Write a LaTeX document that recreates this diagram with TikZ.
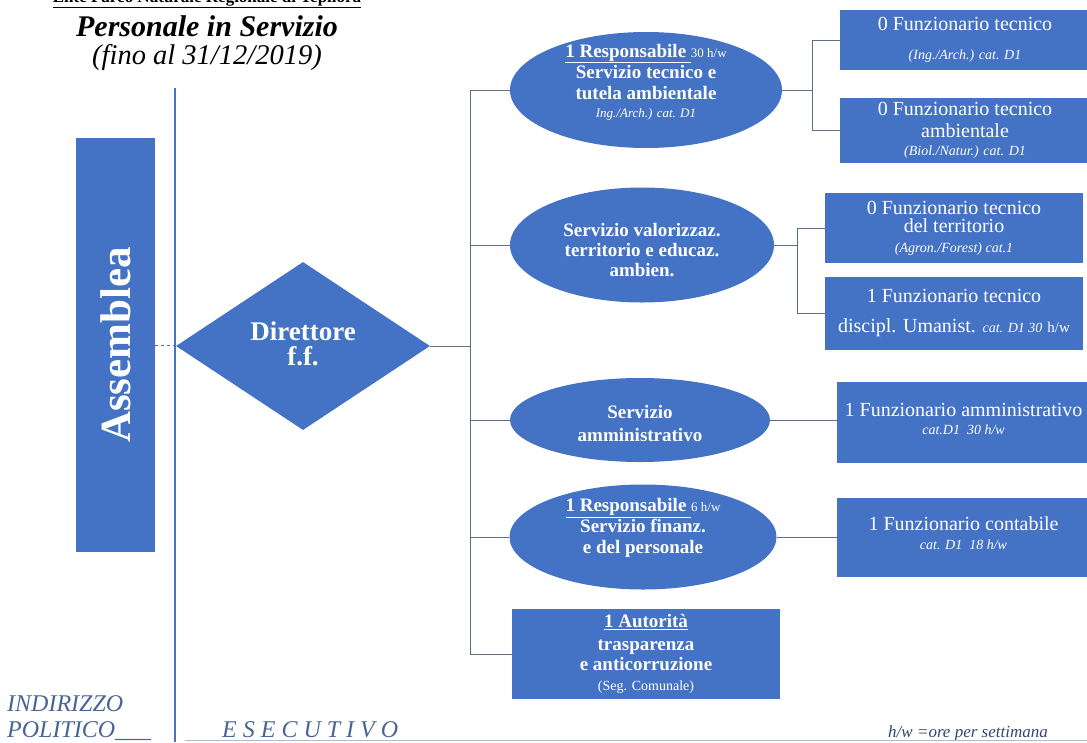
\documentclass[tikz,border=0pt]{standalone}
\usepackage{fontspec}
\setmainfont{Liberation Serif}
\usetikzlibrary{shapes.geometric}
\definecolor{boxblue}{RGB}{68,114,196}
\definecolor{linegray}{RGB}{95,110,135}
\definecolor{txtblue}{RGB}{70,100,150}
\definecolor{txtdark}{RGB}{50,70,110}
\definecolor{baseline}{RGB}{170,190,205}
\newcommand\mysmallit[1]{{\mdseries\itshape\fontsize{14}{22}\selectfont #1}}
\newcommand\myhw[1]{{\mdseries\fontsize{13}{21}\selectfont #1}}
\begin{document}
\begin{tikzpicture}[x=1pt,y=-1pt,
  fillbox/.style={fill=boxblue, text=white, inner sep=0pt, align=center, draw=none},
  oval/.style={ellipse, fillbox},
  ovaltext/.style={text=white, inner sep=0pt, align=center, font=\bfseries\fontsize{19}{21}\selectfont},
  rbox/.style={rectangle, fillbox, font=\fontsize{20}{22}\selectfont},
  boxtext/.style={text=white, inner sep=0pt, align=center, font=\fontsize{20}{22}\selectfont},
  conn/.style={draw=linegray, line width=0.9pt},
  mainline/.style={draw=boxblue, line width=2.5pt},
  foot/.style={font=\itshape\fontsize{24}{27}\selectfont, text=txtblue, inner sep=0pt}]
\useasboundingbox (0,0) rectangle (1087,742);
\clip (0,0) rectangle (1087,742);

% titles
\node[anchor=base, inner sep=0pt, font=\bfseries\fontsize{17}{20}\selectfont] (ente) at (207,2) {\underline{Ente Parco Naturale Regionale di Tepilora}};
\node[anchor=base, inner sep=0pt, font=\bfseries\itshape\fontsize{30}{32}\selectfont] (title) at (207,36) {Personale in Servizio};
\node[anchor=base, inner sep=0pt, font=\itshape\fontsize{28.5}{30}\selectfont] (date) at (207,64) {(fino al 31/12/2019)};

% main vertical line
\coordinate (vtop) at (175,88);
\coordinate (vbot) at (175,742);
\draw[mainline] (vtop) -- (vbot);

% Assemblea
\node[fillbox, minimum width=79, minimum height=414] (ass) at (115.5,345) {};
\node[rotate=90, text=white, inner sep=0pt, font=\bfseries\fontsize{43}{48}\selectfont] (asstxt) at (ass.center) {Assemblea};
\draw[conn, dashed, line width=0.7pt] (ass.east) -- (ass.east -| vtop);

% Direttore
\node[diamond, fillbox, aspect=1.51, minimum width=254, minimum height=168] (dir) at (303,346) {};
\node[text=white, inner sep=0pt, align=center, font=\bfseries\fontsize{27}{25}\selectfont] (dirt) at (303,344) {Direttore\\f.f.};

% services
\node[oval, minimum width=272, minimum height=116] (e1) at (646,90) {};
\node[ovaltext] (e1t) at (646,82)
 {\underline{1 Responsabile\ }\myhw{30 h/w}\\Servizio tecnico e\\tutela ambientale\\[-3pt]{\mdseries\itshape\fontsize{13}{21}\selectfont Ing./Arch.) cat. D1}};
\node[oval, minimum width=264, minimum height=115] (e2) at (642,245) {};
\node[ovaltext, font=\bfseries\fontsize{19}{20}\selectfont] (e2t) at (642,250)
 {Servizio valorizzaz.\\territorio e educaz.\\ambien.};
\node[oval, minimum width=260, minimum height=84] (e3) at (640,420) {};
\node[ovaltext] (e3t) at (640,423) {Servizio\\[2pt]amministrativo};
\node[oval, minimum width=267, minimum height=105] (e4) at (643,537) {};
\node[ovaltext] (e4t) at (643,528)
 {\underline{1 Responsabile\ }\myhw{6 h/w}\\Servizio finanz.\\e del personale};
\node[rbox, minimum width=268, minimum height=90, font=\bfseries\fontsize{19}{20}\selectfont] (r5) at (646,654)
 {\underline{1 Autorità}\\[3pt]trasparenza\\e anticorruzione\\{\mdseries\fontsize{14}{20}\selectfont (Seg. Comunale)}};

% staff boxes
\node[rbox, minimum width=250, minimum height=60] (bA) at (965,40)
 {0 Funzionario tecnico\\[7pt]\mysmallit{(Ing./Arch.) cat. D1}};
\node[rbox, minimum width=250, minimum height=65] (bB) at (965,130.5)
 {0 Funzionario tecnico\\ambientale\\[-4pt]\mysmallit{(Biol./Natur.) cat. D1}};
\node[rbox, minimum width=258, minimum height=70] (bC) at (954,228)
 {0 Funzionario tecnico\\[-4pt]del territorio\\[-2pt]\mysmallit{(Agron./Forest) cat.1}};
\node[rbox, minimum width=258, minimum height=73] (bD) at (954,313.5)
 {1 Funzionario tecnico\\[8pt]discipl. Umanist. \mysmallit{cat. D1 30} {\fontsize{15}{22}\selectfont h/w}};
\node[rbox, minimum width=253, minimum height=81] (bE) at (963.5,422.5) {};
\node[boxtext] (bEt) at (963.5,418.5)
 {1 Funzionario amministrativo\\[-4pt]\mysmallit{cat.D1\ \ 30 h/w}};
\node[rbox, minimum width=253, minimum height=79] (bF) at (963.5,537.5) {};
\node[boxtext] (bFt) at (963.5,533.5)
 {1 Funzionario contabile\\[-3pt]\mysmallit{cat. D1\ \ 18 h/w}};

% trunk connectors
\coordinate (ttop) at (470,90);
\coordinate (tbot) at (470,654);
\draw[conn] (e1.west) -- (e1.west -| ttop) -- (tbot) -- (r5.west);
\draw[conn] (dir.east) -- (dir.east -| ttop);
\draw[conn] (e2.west) -- (e2.west -| ttop);
\draw[conn] (e3.west) -- (e3.west -| ttop);
\draw[conn] (e4.west) -- (e4.west -| ttop);

% brackets
\coordinate (b1) at (812,0);
\coordinate (b2) at (797,0);
\draw[conn] (e1.east) -- (e1.east -| b1);
\draw[conn] (bA.west) -- (bA.west -| b1) -- (bB.west -| b1) -- (bB.west);
\draw[conn] (e2.east) -- (e2.east -| b2);
\draw[conn] (bC.west) -- (bC.west -| b2) -- (bD.west -| b2) -- (bD.west);
\draw[conn] (e3.east) -- (e3.east -| bE.west);
\draw[conn] (e4.east) -- (e4.east -| bF.west);

% footer
\node[foot, anchor=base west] (ind) at (7,711) {INDIRIZZO};
\node[foot, anchor=base west] (pol) at (7,737) {POLITICO\_\_\_};
\node[foot, anchor=base west] (esec) at (222,737) {E S E C U T I V O};
\node[anchor=base west, inner sep=0pt, font=\itshape\fontsize{17}{20}\selectfont, text=txtdark] (hw) at (888,737) {h/w =ore per settimana};
\coordinate (lstart) at (185,740.5);
\coordinate (lend) at (1087,740.5);
\draw[draw=baseline, line width=1.5pt] (lstart) -- (lend);
\end{tikzpicture}
\end{document}
